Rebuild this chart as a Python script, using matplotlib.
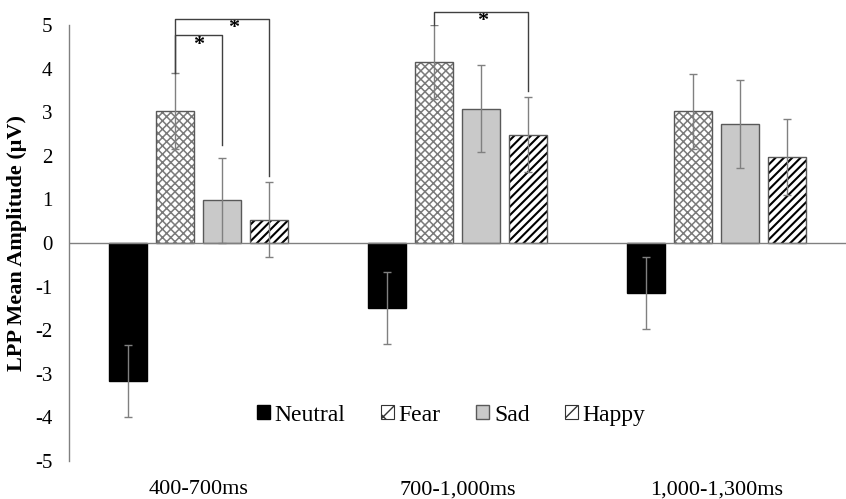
import matplotlib
matplotlib.use("Agg")
import matplotlib.pyplot as plt
import matplotlib.patches as mpatches
import numpy as np

plt.rcParams['font.family'] = ['Liberation Serif', 'DejaVu Serif']

windows = ["400-700ms", "700-1,000ms", "1,000-1,300ms"]
conditions = ["Neutral", "Fear", "Sad", "Happy"]
neutral = [-3.17, -1.49, -1.15]
fear = [3.03, 4.16, 3.02]
sad = [0.98, 3.08, 2.74]
happy = [0.53, 2.48, 1.98]
neutral_err = [0.83, 0.82, 0.82]
fear_err = [0.87, 0.85, 0.86]
sad_err = [0.98, 1.00, 1.01]
happy_err = [0.86, 0.86, 0.87]
yticks = [-5, -4, -3, -2, -1, 0, 1, 2, 3, 4, 5]

values = [neutral, fear, sad, happy]
errors = [neutral_err, fear_err, sad_err, happy_err]

styles = [
    dict(face='black', hatchcol='black', edge='black', hatch=None, lhatch=None, hlw=1.0),
    dict(face='white', hatchcol='#7a7a7a', edge='#595959', hatch='xxxx', lhatch='x', hlw=1.1),
    dict(face='#c9c9c9', hatchcol='#595959', edge='#595959', hatch=None, lhatch=None, hlw=1.0),
    dict(face='white', hatchcol='black', edge='#595959', hatch='////', lhatch='//', hlw=1.5),
]

fig = plt.figure(figsize=(8.46, 4.99), dpi=100)
ax = fig.add_axes([69/846, 38/499, 777/846, 436/499])

x = np.arange(len(windows))
pitch = 0.182
width = 0.145
offsets = [-1.5*pitch, -0.5*pitch, 0.5*pitch, 1.5*pitch]

handles = []
for i, (vals, errs, st) in enumerate(zip(values, errors, styles)):
    xs = x + offsets[i]
    if st['hatch']:
        bars = ax.bar(xs, vals, width, color=st['face'], edgecolor=st['hatchcol'],
                      hatch=st['hatch'], linewidth=0, zorder=2)
        for b in bars:
            if hasattr(b, 'set_hatch_linewidth'):
                b.set_hatch_linewidth(st['hlw'])
        ax.bar(xs, vals, width, fill=False, edgecolor=st['edge'], linewidth=1.0, zorder=3)
        h = mpatches.Rectangle((0, 0), 1, 1, facecolor=st['face'], edgecolor='#333333',
                               hatch=st['lhatch'], linewidth=0.8)
        if hasattr(h, 'set_hatch_linewidth'):
            h.set_hatch_linewidth(1.0)
        handles.append(h)
    else:
        bars = ax.bar(xs, vals, width, color=st['face'], edgecolor=st['edge'],
                      linewidth=1.0, zorder=2)
        handles.append(bars)
    ax.errorbar(xs, vals, yerr=errs, fmt='none', ecolor='#808080', elinewidth=1.0,
                capsize=3, capthick=1.0, zorder=4)

ax.axhline(0, color='#808080', linewidth=1.0, zorder=5)

ax.set_xlim(-0.5, 2.5)
ax.set_ylim(-5, 5)
ax.set_yticks(yticks)
ax.set_yticklabels([str(t) for t in yticks])
ax.set_xticks(x)
ax.set_xticklabels(windows)
ax.tick_params(axis='y', length=0, pad=12, labelsize=15)
ax.tick_params(axis='x', length=0, pad=14, labelsize=16)
for s in ['top', 'right', 'bottom']:
    ax.spines[s].set_visible(False)
ax.spines['left'].set_color('#808080')
ax.spines['left'].set_linewidth(1.0)

ax.set_ylabel("LPP Mean Amplitude (\u03bcV)", fontsize=16, fontweight='bold', labelpad=6)

# significance brackets
bc = '#404040'
def bracket(x1, x2, ytop, y1, y2, sx, sy):
    ax.plot([x1, x1, x2, x2], [y1, ytop, ytop, y2], color=bc, linewidth=1.0,
            clip_on=False, zorder=6)
    ax.text(sx, sy, '*', ha='center', va='center', fontsize=16, fontweight='bold',
            clip_on=False)

f0, s0, h0 = offsets[1], offsets[2], offsets[3]
bracket(0 + f0, 0 + s0, 4.77, 3.89, 2.25, 0.0, 4.53)
bracket(0 + f0, 0 + h0, 5.13, 3.89, 1.54, 0.135, 4.93)
bracket(1 + f0, 1 + h0, 5.29, 5.0, 3.49, 1.098, 5.10)

leg = ax.legend(handles, conditions, loc='center', bbox_to_anchor=(0.492, 0.105),
                ncol=4, frameon=False, prop=dict(family='Liberation Serif', size=17),
                handlelength=0.55, handleheight=0.55, handletextpad=0.2,
                columnspacing=1.5)

fig.savefig("out.png", dpi=100)
